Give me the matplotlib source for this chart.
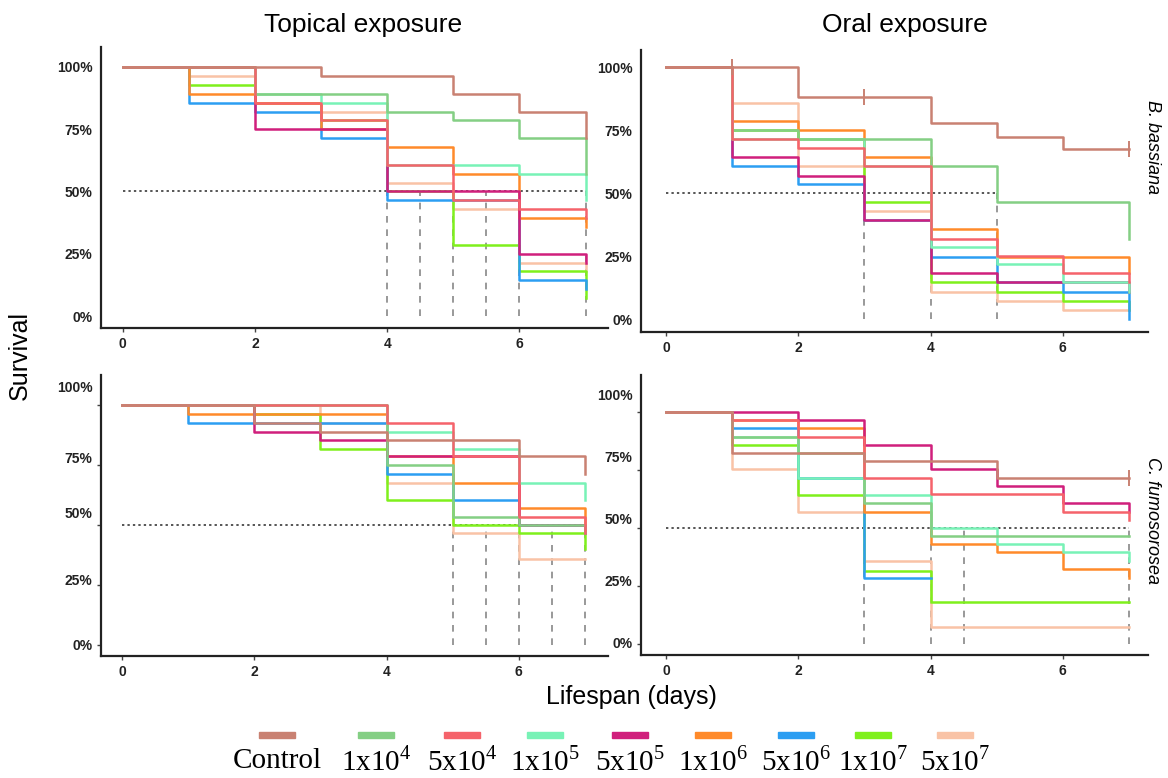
import numpy as np
import matplotlib.pyplot as plt
from matplotlib.patches import Rectangle

plt.rcParams['font.family'] = ['Liberation Sans', 'DejaVu Sans']
plt.rcParams['mathtext.fontset'] = 'custom'
plt.rcParams['mathtext.rm'] = 'Liberation Serif'

# days 0..7, value k = survival (%) from day k to k+1, last value = after final drop
days = [0, 1, 2, 3, 4, 5, 6, 7]
groups = ['Control', '1x10$^4$', '5x10$^4$', '1x10$^5$', '5x10$^5$',
          '1x10$^6$', '5x10$^6$', '1x10$^7$', '5x10$^7$']

# B. bassiana, topical exposure
bb_topical = [
    [100, 100, 100, 96.4, 96.4, 89.3, 82.1, 71.5],
    [100, 100, 89.3, 89.3, 82.1, 78.6, 71.5, 57.1],
    [100, 100, 85.7, 78.6, 60.7, 46.4, 42.9, 39.3],
    [100, 100, 89.3, 85.7, 60.7, 60.7, 57.1, 46.4],
    [100, 100, 75.0, 75.0, 50.0, 50.0, 25.0, 21.4],
    [100, 89.3, 85.7, 75.0, 67.9, 57.1, 39.3, 35.7],
    [100, 85.7, 82.1, 71.4, 46.4, 46.4, 14.3, 10.7],
    [100, 92.9, 85.7, 78.6, 50.0, 28.6, 17.9, 7.1],
    [100, 96.4, 85.7, 82.1, 53.6, 42.9, 21.4, 17.9],
]
# B. bassiana, oral exposure
bb_oral = [
    [100, 100, 88.1, 88.1, 77.8, 72.5, 67.6, 67.6],
    [100, 75.0, 71.6, 71.6, 60.8, 46.7, 46.7, 32.0],
    [100, 71.6, 68.0, 60.8, 32.1, 25.0, 18.3, 14.7],
    [100, 71.6, 71.6, 60.8, 28.6, 22.0, 14.7, 11.0],
    [100, 64.3, 57.1, 39.4, 18.3, 14.7, 14.7, 11.0],
    [100, 78.8, 75.1, 64.3, 35.8, 24.9, 24.9, 18.3],
    [100, 60.8, 53.6, 39.4, 24.9, 14.7, 11.0, 0.0],
    [100, 75.1, 71.6, 46.7, 14.7, 11.0, 7.4, 3.7],
    [100, 85.7, 60.8, 43.0, 11.0, 7.4, 3.7, 3.7],
]
# C. fumosorosea, topical exposure
cf_topical = [
    [100, 100, 92.5, 88.9, 85.4, 85.4, 78.6, 71.2],
    [100, 100, 100, 100, 75.0, 53.4, 50.0, 46.6],
    [100, 100, 100, 100, 92.5, 78.6, 53.4, 46.6],
    [100, 100, 100, 100, 88.9, 81.6, 67.7, 60.5],
    [100, 100, 88.9, 85.4, 78.6, 78.6, 50.0, 46.6],
    [100, 96.2, 96.2, 96.2, 78.6, 67.7, 56.9, 50.0],
    [100, 92.5, 92.5, 92.5, 71.2, 60.5, 50.1, 46.6],
    [100, 100, 96.2, 81.6, 60.5, 50.1, 46.6, 40.0],
    [100, 100, 100, 92.5, 67.7, 46.6, 35.7, 35.7],
]
# C. fumosorosea, oral exposure
cf_oral = [
    [100, 82.1, 82.1, 78.9, 78.9, 71.6, 71.6, 71.6],
    [100, 89.2, 82.1, 60.8, 46.6, 46.6, 46.6, 46.6],
    [100, 96.4, 89.2, 71.6, 64.4, 64.4, 57.0, 53.6],
    [100, 89.2, 71.6, 64.1, 50.1, 43.0, 39.5, 35.9],
    [100, 100, 96.4, 85.7, 75.2, 68.0, 60.5, 57.0],
    [100, 96.4, 92.8, 57.0, 43.0, 39.5, 32.1, 28.5],
    [100, 92.8, 71.6, 28.3, np.nan, np.nan, np.nan, np.nan],
    [100, 85.7, 64.1, 31.6, 18.2, 18.2, 18.2, 18.2],
    [100, 75.2, 57.0, 35.7, 7.5, 7.5, 7.5, 7.5],
]

# median survival times (dashed drop lines) and end of 50% reference line
medians_bb_topical = [4, 4.5, 5, 5.5, 6, 7]
medians_bb_oral = [3, 4, 5]
medians_cf_topical = [5, 5.5, 6, 6.5, 7]
medians_cf_oral = [3, 4, 4.5, 7]
# censored control points (day, survival)
censor_bb_oral = [(1, 100), (3, 88.1), (7, 67.6)]
censor_cf_oral = [(7, 71.6)]

ytick_vals = [0, 25, 50, 75, 100]
ytick_text = ['0%', '25%', '50%', '75%', '100%']
# where the percent labels sit in the (pasted) lower panels
ylab_top = [0, 25, 50, 75, 100]
ylab_bottom_left = [0.4, 27.1, 55.1, 78.2, 107.9]
ylab_bottom_right = [0.6, 27.5, 54.1, 80.6, 107.5]

colors = ['#c98172', '#84cf84', '#f5636b', '#78f2b6', '#d01f7c',
          '#ff8a2a', '#2c9ef2', '#7ff01c', '#f9c3a6']
draw_order = [8, 7, 6, 5, 4, 3, 1, 2, 0]

W, H = 1168, 778
fig = plt.figure(figsize=(W / 100, H / 100), dpi=100)


def box(left, top, right, bottom):
    return [left / W, 1 - bottom / H, (right - left) / W, (bottom - top) / H]


panels = [
    (box(101, 47, 608, 328), bb_topical, medians_bb_topical, 7, [], (-0.33, 7.34), (-4.8, 108.0), ylab_top),
    (box(641, 50, 1148, 332), bb_oral, medians_bb_oral, 5, censor_bb_oral, (-0.38, 7.29), (-5.0, 106.9), ylab_top),
    (box(101, 375, 608, 656), cf_topical, medians_cf_topical, 7, [], (-0.32, 7.35), (-4.6, 112.5), ylab_bottom_left),
    (box(641, 375, 1148, 655), cf_oral, medians_cf_oral, 7, censor_cf_oral, (-0.38, 7.29), (-4.7, 115.8), ylab_bottom_right),
]

for rect, data, medians, half_end, censor, xlim, ylim, ylab in panels:
    ax = fig.add_axes(rect)
    ax.plot([0, half_end], [50, 50], color='#555555', ls=(0, (1.2, 1.6)), lw=1.4, zorder=1)
    for m in medians:
        ax.plot([m, m], [0, 50], color='#888888', ls=(0, (4, 4)), lw=1.2, zorder=1)
    for i in draw_order:
        ax.plot(days, data[i], drawstyle='steps-post', color=colors[i], lw=1.8, zorder=2)
    for d, v in censor:
        ax.plot(d, v, marker='|', ms=11, mew=1.4, color=colors[0], zorder=3)
    ax.set_xlim(*xlim)
    ax.set_ylim(*ylim)
    ax.set_xticks([0, 2, 4, 6])
    # tick marks at the true values, labels where the reference prints them
    ax.set_yticks(ytick_vals, minor=True)
    ax.set_yticks(ylab)
    ax.set_yticklabels(ytick_text)
    ax.tick_params(axis='y', which='major', length=0, pad=6)
    ax.tick_params(axis='y', which='minor', length=3, width=1, colors='#444444')
    for s in ['top', 'right']:
        ax.spines[s].set_visible(False)
    for s in ['left', 'bottom']:
        ax.spines[s].set_linewidth(1.6)
        ax.spines[s].set_color('#222222')
    ax.tick_params(axis='x', length=3, width=1, colors='#444444')
    ax.tick_params(labelcolor='#222222', labelsize=10)
    for lab in ax.get_xticklabels() + ax.get_yticklabels():
        lab.set_fontweight('bold')

fig.text(363 / W, 1 - 25 / H, 'Topical exposure', ha='center', va='center', fontsize=19)
fig.text(905 / W, 1 - 25 / H, 'Oral exposure', ha='center', va='center', fontsize=19)
fig.text(1152 / W, 1 - 147 / H, 'B. bassiana', rotation=270, ha='center', va='center',
         fontsize=13, style='italic')
fig.text(1152 / W, 1 - 520 / H, 'C. fumosorosea', rotation=270, ha='center', va='center',
         fontsize=13, style='italic')
fig.text(20 / W, 1 - 355 / H, 'Survival', rotation=90, ha='center', va='center', fontsize=18)
fig.text(631 / W, 1 - 697 / H, 'Lifespan (days)', ha='center', va='center', fontsize=18)

# legend: colour bar above each label
legend_x = [277, 376, 462, 545, 630, 713, 796, 873, 955]
for x, c, g in zip(legend_x, colors, groups):
    fig.add_artist(Rectangle(((x - 18) / W, 1 - 738 / H), 36 / W, 6 / H,
                             transform=fig.transFigure, color=c))
    fig.text(x / W, 1 - 761 / H, g, ha='center', va='center', fontsize=21,
             family='Liberation Serif')

fig.savefig('out.png', dpi=100)
